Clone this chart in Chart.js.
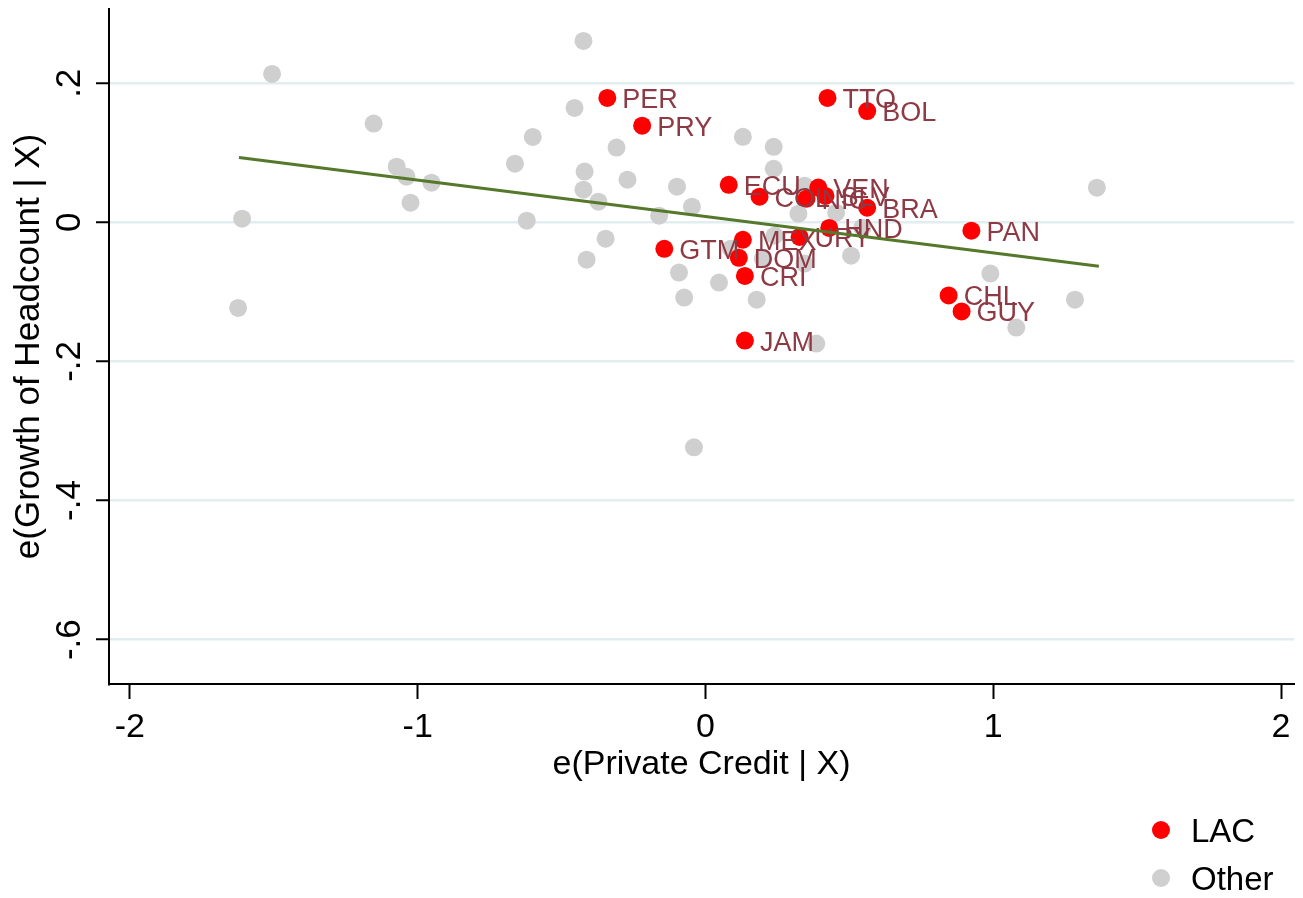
<!DOCTYPE html>
<html>
<head>
<meta charset="utf-8">
<title>Private credit vs growth of headcount</title>
<script src="https://cdn.jsdelivr.net/npm/chart.js@4.4.1/dist/chart.umd.min.js"></script>
<style>
  html, body { margin: 0; padding: 0; background: #fff; }
  #wrap { width: 1303px; height: 898px; }
</style>
</head>
<body>
<div id="wrap"><canvas id="chart" width="1303" height="898"></canvas></div>
<script>
/* ---- Data ---- */
const lacCodes = ['PER', 'PRY', 'TTO', 'BOL', 'ECU', 'COL', 'NIC', 'VEN', 'SLV', 'BRA',
                  'HND', 'URY', 'MEX', 'DOM', 'CRI', 'GTM', 'JAM', 'PAN', 'CHL', 'GUY'];
const lacX = [-0.341, -0.220, 0.424, 0.562, 0.081, 0.188, 0.351, 0.392, 0.417, 0.562,
              0.430, 0.327, 0.130, 0.116, 0.137, -0.143, 0.137, 0.924, 0.845, 0.890];
const lacY = [0.179, 0.139, 0.179, 0.160, 0.054, 0.037, 0.034, 0.050, 0.038, 0.021,
              -0.008, -0.021, -0.025, -0.051, -0.077, -0.038, -0.170, -0.012, -0.105, -0.128];

const otherX = [-1.506, -1.153, -1.073, -1.039, -0.952, -1.025, -1.610, -1.624, -0.424, -0.455,
                -0.600, -0.662, -0.309, -0.420, -0.271, -0.424, -0.372, -0.621, -0.347, -0.413,
                0.130, 0.237, 0.237, -0.099, -0.047, -0.161, 0.344, 0.323, 0.454, 0.545,
                0.506, 0.240, 0.088, 0.344, 0.199, -0.092, 0.047, -0.074, 0.178, 0.385,
                -0.040, 1.360, 0.990, 1.284, 1.080];
const otherY = [0.2135, 0.142, 0.080, 0.0657, 0.057, 0.0283, 0.0053, -0.1231, 0.2609, 0.1645,
                0.1229, 0.0843, 0.1075, 0.073, 0.0614, 0.047, 0.0298, 0.0024, -0.0234, -0.0536,
                0.123, 0.1087, 0.0771, 0.0513, 0.0225, 0.0096, 0.0527, 0.0125, 0.0139, -0.0076,
                -0.0479, -0.0191, -0.0378, -0.0593, -0.0521, -0.0722, -0.0866, -0.1081, -0.1111, -0.1743,
                -0.3235, 0.0498, -0.0737, -0.1111, -0.1512];

// fitted line (two end points)
const fitX = [-1.621, 1.367];
const fitY = [0.0933, -0.0632];

const xTicks = [-2, -1, 0, 1, 2];
const yTicks = [-0.6, -0.4, -0.2, 0, 0.2];
const yTickLabels = ['-.6', '-.4', '-.2', '0', '.2'];

const FONT = "'Liberation Sans', Arial, sans-serif";
const RED = '#ff0000';
const GREY = '#cfcfcf';
const LABEL_RED = '#8e3a44';
const FIT_GREEN = '#55782b';

const zip = (xs, ys) => xs.map((x, i) => ({ x, y: ys[i] }));

// country codes next to the red markers
const codeLabels = {
  id: 'codeLabels',
  afterDatasetDraw(chart, args) {
    if (chart.data.datasets[args.index].label !== 'LAC') return;
    const ctx = chart.ctx;
    const xs = chart.scales.x, ys = chart.scales.y;
    ctx.save();
    ctx.font = `27px ${FONT}`;
    ctx.fillStyle = LABEL_RED;
    ctx.textAlign = 'left';
    ctx.textBaseline = 'alphabetic';
    lacCodes.forEach((c, i) => {
      const px = xs.getPixelForValue(lacX[i]);
      const py = ys.getPixelForValue(lacY[i]);
      ctx.fillText(c, px + 15, py + 10);
    });
    ctx.restore();
  }
};

// rotated y tick labels (Stata style)
const yLabels = {
  id: 'yLabels',
  afterDraw(chart) {
    const ctx = chart.ctx;
    const ys = chart.scales.y;
    ctx.save();
    ctx.font = `35px ${FONT}`;
    ctx.fillStyle = '#000';
    ctx.textAlign = 'center';
    ctx.textBaseline = 'alphabetic';
    yTicks.forEach((v, i) => {
      ctx.save();
      ctx.translate(ys.right - 29, ys.getPixelForValue(v));
      ctx.rotate(-Math.PI / 2);
      ctx.fillText(yTickLabels[i], 0, 0);
      ctx.restore();
    });
    ctx.restore();
  }
};

// stacked legend in the lower right corner
const sideLegend = {
  id: 'sideLegend',
  afterDraw(chart) {
    const ctx = chart.ctx;
    const items = chart.data.datasets.filter(d => d.label !== 'fit');
    const x0 = chart.chartArea.right - 133;
    let y0 = 830;
    ctx.save();
    ctx.font = `33px ${FONT}`;
    ctx.textBaseline = 'alphabetic';
    items.forEach(d => {
      ctx.fillStyle = d.backgroundColor;
      ctx.beginPath();
      ctx.arc(x0, y0, 9, 0, Math.PI * 2);
      ctx.fill();
      ctx.fillStyle = '#000';
      ctx.fillText(d.label, x0 + 30, y0 + 12);
      y0 += 48;
    });
    ctx.restore();
  }
};

new Chart(document.getElementById('chart'), {
  type: 'scatter',
  data: {
    datasets: [
      {
        label: 'fit',
        type: 'line',
        data: zip(fitX, fitY),
        borderColor: FIT_GREEN,
        borderWidth: 3,
        pointRadius: 0,
        fill: false
      },
      {
        label: 'LAC',
        data: zip(lacX, lacY),
        backgroundColor: RED,
        borderWidth: 0,
        pointRadius: 9
      },
      {
        label: 'Other',
        data: zip(otherX, otherY),
        backgroundColor: GREY,
        borderWidth: 0,
        pointRadius: 9
      }
    ]
  },
  options: {
    responsive: false,
    animation: false,
    layout: { padding: { top: 8, right: 3, left: 0, bottom: 80 } },
    plugins: {
      legend: { display: false },
      tooltip: { enabled: false }
    },
    scales: {
      x: {
        type: 'linear',
        min: -2.0726,
        max: 2.045,
        afterBuildTicks: s => { s.ticks = xTicks.map(v => ({ value: v })); },
        afterFit: s => { s.height = 134; },
        ticks: {
          font: { family: FONT, size: 34 },
          color: '#000',
          padding: 8,
          callback: v => String(v)
        },
        grid: { drawOnChartArea: false, tickLength: 15, tickColor: '#000', tickWidth: 2 },
        border: { color: '#000', width: 2 },
        title: {
          display: true,
          text: 'e(Private Credit | X)',
          font: { family: FONT, size: 34 },
          color: '#000',
          padding: { top: 0, bottom: 33 }
        }
      },
      y: {
        type: 'linear',
        min: -0.6638,
        max: 0.3068,
        afterBuildTicks: s => { s.ticks = yTicks.map(v => ({ value: v })); },
        afterFit: s => { s.width = 109; },
        ticks: { display: false },
        grid: { color: '#e2edf0', lineWidth: 2.5, tickLength: 13, tickColor: '#000', tickWidth: 2 },
        border: { color: '#000', width: 2 },
        title: {
          display: true,
          text: 'e(Growth of Headcount | X)',
          font: { family: FONT, size: 35 },
          color: '#000',
          padding: { top: 8, bottom: 0 }
        }
      }
    }
  },
  plugins: [codeLabels, yLabels, sideLegend]
});
</script>
</body>
</html>
